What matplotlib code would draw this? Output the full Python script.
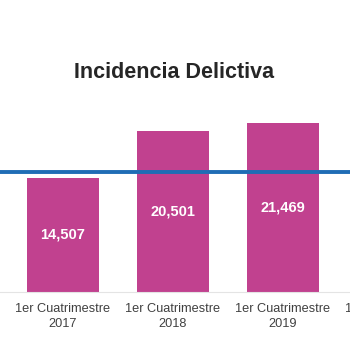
import matplotlib.pyplot as plt

# ------------------ datos ------------------
categorias = ["1er Cuatrimestre\n2016", "1er Cuatrimestre\n2017", "1er Cuatrimestre\n2018",
              "1er Cuatrimestre\n2019", "1er Cuatrimestre\n2020"]
posiciones_barras = [1, 2, 3]          # indices de las barras visibles (2017-2019)
valores = [14507, 20501, 21469]
linea_referencia = 15270

color_barra = "#c1418f"
color_linea = "#1f6db5"

plt.rcParams["font.family"] = ["Liberation Sans", "DejaVu Sans"]

fig = plt.figure(figsize=(3.5, 3.5), dpi=100)
ax = fig.add_axes([0, 58 / 350, 1, 292 / 350])

ax.bar(posiciones_barras, valores, width=0.66, color=color_barra, zorder=2)
for x, v in zip(posiciones_barras, valores):
    ax.text(x, v / 2, f"{v:,}", ha="center", va="center", color="white",
            fontsize=10.5, fontweight="bold", zorder=3)

ax.axhline(linea_referencia, color=color_linea, linewidth=2.8, zorder=4)

# etiquetas de categoria (las de los extremos quedan recortadas por el borde)
for i, cat in enumerate(categorias):
    ax.annotate(cat, xy=(i, 0), xycoords=("data", "axes fraction"),
                xytext=(0, -8), textcoords="offset points", ha="center", va="top",
                fontsize=9.2, color="#404040", linespacing=1.35, annotation_clip=False)

# la vista esta recortada: solo se ven 2017-2019 completos
ax.set_xticks([])
ax.set_yticks([])
ax.set_xlim(0.427, 3.609)
ax.set_ylim(0, 37150)
for side in ["top", "left", "right"]:
    ax.spines[side].set_visible(False)
ax.spines["bottom"].set_color("#e4e4e4")
ax.spines["bottom"].set_linewidth(0.8)

fig.text(0.496, 1 - 73 / 350, "Incidencia Delictiva", ha="center", va="center",
         fontsize=15.5, fontweight="bold", color="#262626")

fig.savefig("out.png", dpi=100)
